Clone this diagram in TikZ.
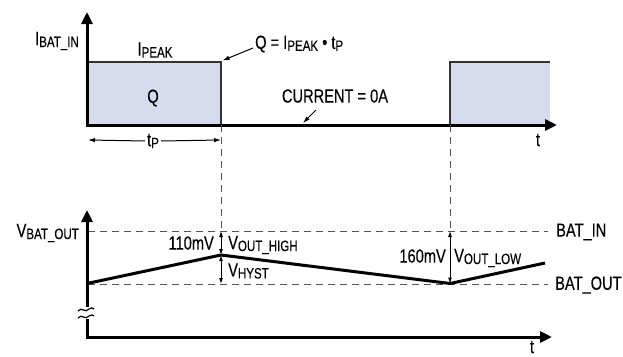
\documentclass[tikz,border=0pt]{standalone}
\usepackage{fontspec}
\setmainfont{Liberation Sans}[FakeStretch=0.77,FakeBold=0.25]
\usetikzlibrary{arrows.meta}
\definecolor{qfill}{HTML}{D6DCEE}
\definecolor{edgegray}{HTML}{333333}
\definecolor{guidegray}{HTML}{555555}
\newcommand{\sbs}[1]{\raisebox{-2pt}{\fontsize{15}{15}\selectfont #1}}
\tikzset{
  axis/.style={line width=3pt, -{Triangle[length=12pt,width=11pt]}},
  axisline/.style={line width=3pt},
  wave/.style={line width=3pt, line join=round},
  guide/.style={draw=guidegray, line width=1pt, dash pattern=on 7pt off 5pt},
  dimarrow/.style={line width=1pt, {Latex[length=6pt,width=4pt]}-{Latex[length=6pt,width=4pt]}},
  callout/.style={line width=1pt, -{Latex[length=7pt,width=4.5pt]}},
  lbl/.style={inner sep=0pt, font=\fontsize{19}{19}\selectfont},
}
\begin{document}
\begin{tikzpicture}[x=1pt,y=-1pt]
\useasboundingbox (0,0) rectangle (623,356);
% ---- top graph ----
\coordinate (o1) at (87,125);
\coordinate (p1) at (221,62);
\coordinate (p1b) at (221,125);
\coordinate (p2) at (450,62);
\coordinate (p2b) at (450,125);
\coordinate (p2e) at (550,62);
\fill[qfill] (88,62) rectangle (221,124);
\fill[qfill] (450,62) rectangle (550,124);
\draw[edgegray, line width=1.5pt] (88,62) -- (p1) -- (p1b);
\draw[edgegray, line width=1.5pt] (p2b) -- (p2) -- (p2e);
\draw[axis] (86.5,125) -- (557,125);
\draw[axis] (87,126.5) -- (87,12);
\node[lbl, anchor=east] (ibat) at (79,41) {I\sbs{BAT\_IN}};
\node[lbl] (ipeak) at (155,50) {I\sbs{PEAK}};
\node[lbl] (q) at (153,98) {Q};
\node[lbl, anchor=west] (qeq) at (255,44) {Q = I\sbs{PEAK} \textbullet\ t\sbs{P}};
\coordinate (qtip) at (222.5,60.5);
\draw[callout] (qeq.west) ++(-2,4) -- (qtip);
\node[lbl] (cur) at (335,96) {CURRENT = 0A};
\coordinate (curtip) at (303,123);
\draw[callout] (316,110) -- (curtip);
\node[lbl] (t1) at (538,140) {t};
\node[lbl, fill=white, inner xsep=2pt] (tp) at (153,141) {t\sbs{P}};
\coordinate (tpl) at (88,140);
\coordinate (tpr) at (221,140);
\draw[line width=1pt, -{Latex[length=7pt,width=4.5pt]}] (tp.west) -- (tpl);
\draw[line width=1pt, -{Latex[length=7pt,width=4.5pt]}] (tp.east) -- (tpr);
% ---- guides ----
\coordinate (vpk) at (221,255);
\coordinate (vmin) at (450,283.5);
\draw[guide] (p1b) -- (vpk);
\draw[guide] (p2b) -- (vmin);
\coordinate (binl) at (88,231);
\coordinate (binr) at (548,231);
\coordinate (boutl) at (88,284);
\coordinate (boutr) at (548,284);
\draw[guide] (binl) -- (binr);
\draw[guide] (boutl) -- (boutr);
\node[lbl, anchor=west] (binlbl) at (556,232) {BAT\_IN};
\node[lbl, anchor=west] (boutlbl) at (555,285) {BAT\_OUT};
% ---- bottom graph ----
\draw[axis] (86.5,337) -- (552,337);
\draw[axisline] (87,338.5) -- (87,319);
\draw[axis] (87,307) -- (87,210);
\draw[line width=1.2pt] (78,311) .. controls (82,306) and (85,314) .. (89,309) .. controls (91,307) and (93,308) .. (94,309);
\draw[line width=1.2pt] (78,318) .. controls (82,313) and (85,321) .. (89,316) .. controls (91,314) and (93,315) .. (94,316);
\coordinate (v0) at (87,283.5);
\coordinate (vend) at (545,263);
\draw[wave] (v0) -- (vpk) -- (vmin) -- (vend);
\node[lbl] (t2) at (532,347) {t};
\node[lbl, anchor=east] (vbat) at (79,233) {V\sbs{BAT\_OUT}};
\coordinate (h1) at (221,231);
\coordinate (h2) at (221,284);
\draw[dimarrow] (h1) -- (vpk);
\draw[dimarrow] (vpk) -- (h2);
\coordinate (l1) at (450,231);
\draw[dimarrow] (l1) -- (vmin);
\node[lbl, anchor=east] (m110) at (214,243) {110mV};
\node[lbl, anchor=west] (vhigh) at (228,245) {V\sbs{OUT\_HIGH}};
\node[lbl, anchor=west] (vhyst) at (228,271) {V\sbs{HYST}};
\node[lbl, anchor=east] (m160) at (446,256) {160mV};
\node[lbl, anchor=west] (vlow) at (454,258) {V\sbs{OUT\_LOW}};
\end{tikzpicture}
\end{document}
